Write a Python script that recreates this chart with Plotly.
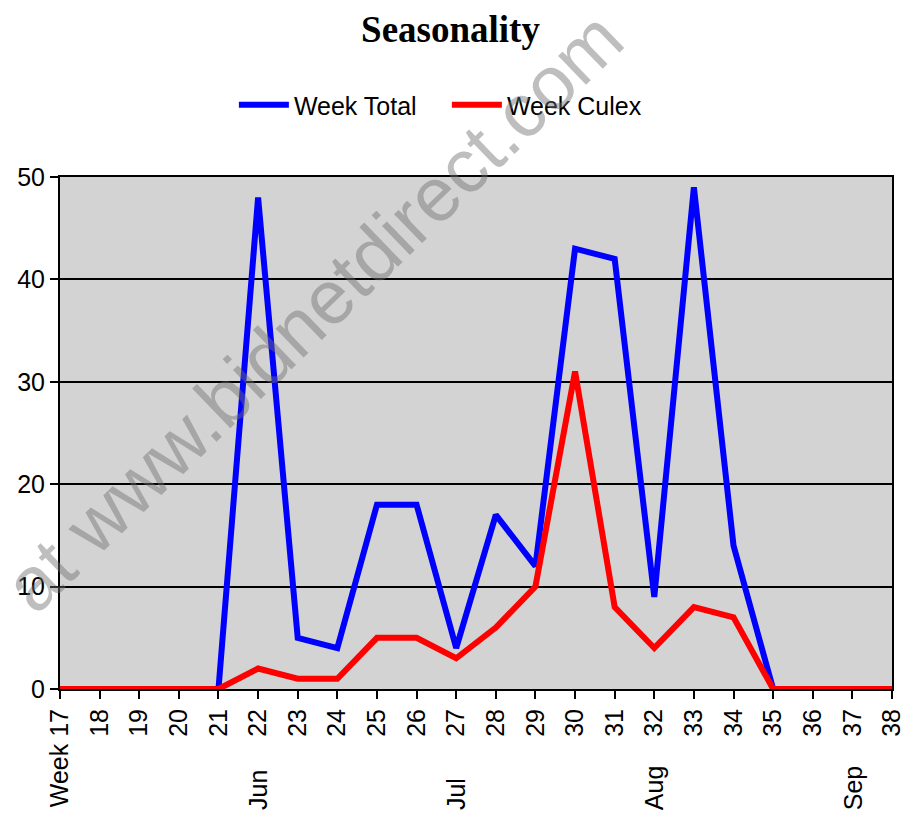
import plotly.graph_objects as go

week_labels = ["Week 17", "18", "19", "20", "21", "22", "23", "24", "25", "26", "27",
               "28", "29", "30", "31", "32", "33", "34", "35", "36", "37", "38"]
week_total = [0, 0, 0, 0, 0, 48, 5, 4, 18, 18, 4, 17, 12, 43, 42, 9, 49, 14, 0, 0, 0, 0]
week_culex = [0, 0, 0, 0, 0, 2, 1, 1, 5, 5, 3, 6, 10, 31, 8, 4, 8, 7, 0, 0, 0, 0]
month_labels = ["Jun", "Jul", "Aug", "Sep"]
month_weeks = ["22", "27", "32", "37"]

xs = list(range(len(week_labels)))

fig = go.Figure()
fig.add_trace(go.Scatter(x=xs, y=week_total, mode="lines", name="Week Total",
                         line=dict(color="#0000FF", width=6)))
fig.add_trace(go.Scatter(x=xs, y=week_culex, mode="lines", name="Week Culex",
                         line=dict(color="#FF0000", width=6)))

font_family = "Liberation Sans, Arial, sans-serif"

for lab, wk in zip(month_labels, month_weeks):
    fig.add_annotation(x=week_labels.index(wk), y=-0.240, xref="x", yref="paper",
                       text=lab, textangle=-90, showarrow=False,
                       xanchor="center", yanchor="bottom",
                       font=dict(family=font_family, size=25, color="black"))

# watermark
H, B, T = 818, 129, 177
ph = H - B - T
def py(pix):
    return (H - B - pix) / ph

fig.add_annotation(x=(313 - 60) / 832, y=py(311), xref="paper", yref="paper",
                   text="at www.bidnetdirect.com", textangle=-44, showarrow=False,
                   xanchor="center", yanchor="middle",
                   font=dict(family=font_family, size=76, color="rgba(110,110,110,0.45)"))

fig.update_layout(
    width=901, height=818,
    margin=dict(l=60, r=9, t=T, b=B, autoexpand=False),
    paper_bgcolor="white", plot_bgcolor="#D3D3D3",
    title=dict(text="<b>Seasonality</b>", x=0.5, xanchor="center", y=1 - 29 / 818, yanchor="middle",
               font=dict(family="Liberation Serif, Times New Roman, serif", size=37, color="black")),
    legend=dict(orientation="h", x=0.465, xanchor="center", y=1 - 105 / 818, yref="container",
                yanchor="middle", font=dict(family=font_family, size=25, color="black"),
                itemwidth=50, entrywidth=148, bgcolor="rgba(0,0,0,0)"),
    showlegend=True,
)
fig.update_xaxes(range=[0, 21], tickmode="array", tickvals=xs, ticktext=week_labels,
                 tickangle=-90, ticks="outside", ticklen=8, tickwidth=2, tickcolor="black",
                 showgrid=False, zeroline=False, showline=True, linecolor="black", linewidth=2,
                 mirror=True, automargin=False, ticklabeloverflow="allow",
                 tickfont=dict(family=font_family, size=25, color="black"))
fig.update_yaxes(range=[0, 50], tickmode="array", tickvals=[0, 10, 20, 30, 40, 50],
                 ticks="outside", ticklen=8, tickwidth=2, tickcolor="black",
                 showgrid=True, gridcolor="black", gridwidth=2, zeroline=False,
                 showline=True, linecolor="black", linewidth=2, mirror=True,
                 automargin=False, ticklabeloverflow="allow",
                 tickfont=dict(family=font_family, size=25, color="black"))

fig.write_html("out.html", config={"displayModeBar": False},
               post_script="document.body.style.margin='0';")
